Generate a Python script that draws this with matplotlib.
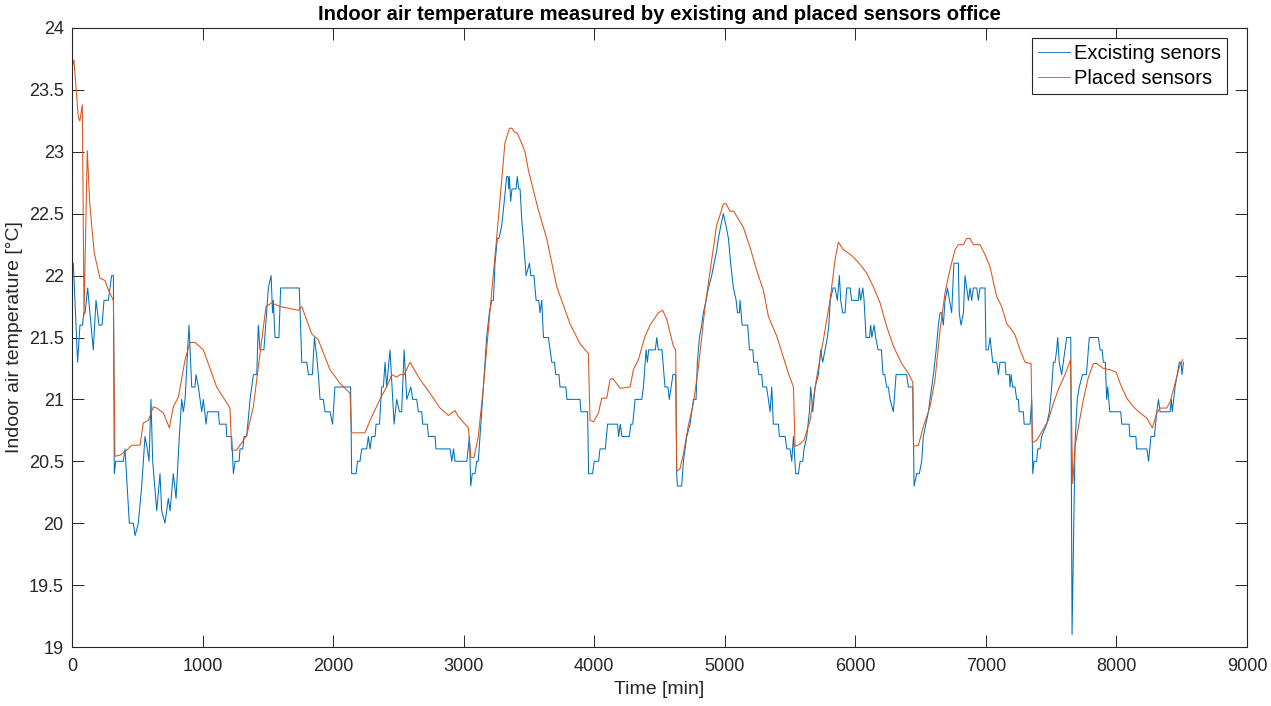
import matplotlib
matplotlib.use("Agg")
import matplotlib.pyplot as plt
from matplotlib import font_manager

# ---------------- data ----------------
existing_t = [10, 43, 61, 81, 90, 100, 120, 163, 184, 207, 230, 245, 278, 291, 304, 317, 324, 335, 393, 406,
              439, 470, 483, 508, 534, 559, 577, 590, 605, 618, 649, 674, 687, 712, 738, 751, 776, 797, 822, 840,
              853, 866, 896, 917, 942, 950, 968, 994, 1006, 1027, 1037, 1121, 1129, 1180, 1185, 1223, 1236, 1249,
              1280, 1287, 1308, 1318, 1338, 1364, 1389, 1415, 1427, 1440, 1470, 1504, 1525, 1536, 1542, 1555,
              1585, 1598, 1741, 1760, 1798, 1811, 1841, 1857, 1874, 1887, 1900, 1925, 1938, 1976, 1996, 2014,
              2134, 2142, 2176, 2187, 2206, 2219, 2257, 2270, 2283, 2296, 2321, 2329, 2355, 2372, 2385, 2398,
              2410, 2436, 2467, 2487, 2508, 2525, 2544, 2564, 2595, 2610, 2640, 2653, 2679, 2686, 2722, 2730,
              2781, 2788, 2896, 2909, 2922, 2934, 3024, 3044, 3054, 3066, 3087, 3100, 3112, 3125, 3151, 3176,
              3197, 3215, 3228, 3240, 3258, 3270, 3291, 3311, 3329, 3340, 3345, 3350, 3360, 3370, 3401, 3411,
              3421, 3432, 3445, 3457, 3478, 3504, 3514, 3538, 3555, 3575, 3585, 3598, 3611, 3649, 3662, 3675,
              3695, 3706, 3730, 3738, 3783, 3791, 3891, 3898, 3949, 3957, 3987, 4000, 4034, 4044, 4085, 4102,
              4179, 4187, 4200, 4212, 4268, 4281, 4295, 4313, 4364, 4377, 4397, 4407, 4417, 4468, 4479, 4491,
              4519, 4542, 4565, 4575, 4603, 4624, 4632, 4637, 4670, 4683, 4709, 4734, 4747, 4760, 4780, 4790,
              4806, 4823, 4836, 4857, 4875, 4900, 4918, 4938, 4951, 4969, 4989, 5010, 5028, 5045, 5066, 5087,
              5097, 5112, 5117, 5133, 5176, 5189, 5215, 5222, 5250, 5260, 5283, 5291, 5320, 5334, 5347, 5360,
              5372, 5411, 5418, 5462, 5475, 5500, 5513, 5526, 5543, 5564, 5577, 5597, 5607, 5628, 5648, 5658,
              5674, 5692, 5717, 5735, 5750, 5768, 5786, 5797, 5808, 5829, 5845, 5862, 5878, 5888, 5903, 5921,
              5934, 5960, 5972, 6023, 6031, 6041, 6057, 6067, 6082, 6108, 6118, 6126, 6144, 6156, 6174, 6200,
              6212, 6225, 6240, 6253, 6266, 6291, 6312, 6393, 6406, 6440, 6450, 6470, 6490, 6508, 6521, 6540,
              6560, 6572, 6585, 6598, 6619, 6636, 6649, 6661, 6674, 6687, 6706, 6721, 6738, 6755, 6789, 6796,
              6809, 6828, 6840, 6853, 6866, 6879, 6891, 6904, 6930, 6942, 6955, 6993, 7001, 7019, 7032, 7052,
              7083, 7096, 7108, 7147, 7154, 7180, 7185, 7193, 7205, 7223, 7236, 7249, 7255, 7287, 7293, 7338,
              7351, 7359, 7369, 7389, 7397, 7415, 7427, 7466, 7486, 7504, 7517, 7530, 7542, 7550, 7562, 7580,
              7593, 7606, 7619, 7650, 7660, 7683, 7700, 7715, 7740, 7770, 7792, 7862, 7875, 7890, 7900, 7915,
              7925, 7933, 7941, 7949, 8033, 8041, 8097, 8103, 8149, 8154, 8233, 8246, 8264, 8290, 8309, 8322,
              8334, 8411, 8420, 8428, 8449, 8482, 8495, 8502, 8513]
existing_v = [22.1, 21.3, 21.6, 21.6, 21.7, 21.7, 21.9, 21.4, 21.8, 21.6, 21.6, 21.8, 21.8, 21.9, 22.0, 22.0, 20.4, 20.5, 20.5, 20.6,
              20.0, 20.0, 19.9, 20.0, 20.3, 20.7, 20.6, 20.5, 21.0, 20.5, 20.1, 20.4, 20.1, 20.0, 20.2, 20.1, 20.4, 20.2, 20.7, 21.0,
              20.9, 21.0, 21.6, 21.1, 21.1, 21.2, 21.1, 20.9, 21.0, 20.8, 20.9, 20.9, 20.8, 20.8, 20.7, 20.7, 20.4, 20.5,
              20.5, 20.6, 20.6, 20.7, 20.7, 21.0, 21.2, 21.2, 21.6, 21.4, 21.4, 21.9, 22.0, 21.7, 21.8, 21.5,
              21.5, 21.9, 21.9, 21.3, 21.3, 21.2, 21.2, 21.5, 21.35, 21.2, 21.0, 21.0, 20.9, 20.9, 20.8, 21.1,
              21.1, 20.4, 20.4, 20.5, 20.5, 20.6, 20.6, 20.7, 20.6, 20.7, 20.7, 20.8, 20.8, 21.1, 21.1, 21.3,
              21.1, 21.4, 20.8, 21.0, 20.9, 20.9, 21.4, 21.0, 21.1, 21.0, 21.0, 20.9, 20.9, 20.8, 20.8, 20.7,
              20.7, 20.6, 20.6, 20.5, 20.6, 20.5, 20.5, 20.7, 20.3, 20.4, 20.4, 20.5, 20.5, 20.7, 21.1, 21.5,
              21.7, 21.8, 21.8, 22.1, 22.3, 22.3, 22.4, 22.6, 22.8, 22.8, 22.7, 22.8, 22.6, 22.7, 22.7, 22.8,
              22.7, 22.7, 22.45, 22.3, 22.0, 22.1, 22.0, 22.0, 21.8, 21.8, 21.7, 21.8, 21.5, 21.5, 21.4, 21.3,
              21.3, 21.2, 21.2, 21.1, 21.1, 21.0, 21.0, 20.9, 20.9, 20.4, 20.4, 20.5, 20.5, 20.6, 20.6, 20.8,
              20.8, 20.7, 20.8, 20.7, 20.7, 20.8, 20.8, 21.0, 21.0, 21.1, 21.4, 21.3, 21.4, 21.4, 21.5, 21.4,
              21.4, 21.1, 21.1, 21.0, 21.2, 21.2, 20.4, 20.3, 20.3, 20.5, 20.7, 20.8, 20.9, 21.0, 21.0, 21.3,
              21.5, 21.6, 21.7, 21.8, 21.9, 22.0, 22.1, 22.2, 22.3, 22.4, 22.5, 22.4, 22.3, 22.1, 21.9, 21.8,
              21.7, 21.7, 21.8, 21.6, 21.6, 21.4, 21.4, 21.3, 21.3, 21.2, 21.2, 21.1, 21.1, 21.0, 20.9, 21.1,
              20.8, 20.8, 20.7, 20.7, 20.6, 20.6, 20.5, 20.7, 20.4, 20.4, 20.5, 20.5, 20.6, 20.7, 20.9, 21.1,
              20.9, 21.1, 21.2, 21.4, 21.3, 21.4, 21.5, 21.6, 21.8, 21.9, 21.9, 21.8, 22.0, 21.8, 21.7, 21.7,
              21.9, 21.9, 21.8, 21.8, 21.9, 21.8, 21.9, 21.8, 21.5, 21.5, 21.6, 21.5, 21.6, 21.5, 21.4, 21.4,
              21.2, 21.2, 21.1, 21.1, 21.0, 20.9, 21.2, 21.2, 21.1, 21.1, 20.3, 20.4, 20.4, 20.5, 20.7, 20.8,
              20.9, 21.0, 21.1, 21.2, 21.4, 21.6, 21.7, 21.7, 21.6, 21.8, 21.9, 21.8, 21.7, 22.1, 22.1, 21.7,
              21.6, 21.7, 22.0, 21.9, 21.8, 21.9, 21.8, 21.9, 21.9, 21.8, 21.9, 21.9, 21.4, 21.4, 21.5, 21.3,
              21.3, 21.2, 21.3, 21.3, 21.2, 21.2, 21.1, 21.2, 21.1, 21.1, 21.0, 21.0, 20.9, 20.9, 20.8, 20.8,
              21.0, 20.4, 20.5, 20.5, 20.6, 20.6, 20.7, 20.8, 20.9, 21.1, 21.3, 21.3, 21.4, 21.5, 21.3, 21.2,
              21.3, 21.4, 21.5, 21.5, 19.1, 20.65, 21.0, 21.1, 21.2, 21.2, 21.5, 21.5, 21.4, 21.4, 21.3, 21.3,
              21.0, 21.1, 21.0, 20.9, 20.9, 20.8, 20.8, 20.7, 20.7, 20.6, 20.6, 20.5, 20.7, 20.7, 20.9, 21.0,
              20.9, 20.9, 21.0, 20.9, 21.1, 21.3, 21.3, 21.2, 21.3]

placed_t = [5, 15, 48, 60, 79, 92, 117, 135, 151, 171, 214, 253, 280, 317, 329, 368, 419, 457, 521, 546,
            585, 623, 649, 700, 746, 776, 815, 866, 904, 942, 1006, 1108, 1210, 1223, 1261, 1338, 1389, 1440,
            1486, 1530, 1593, 1734, 1760, 1836, 1887, 1976, 2053, 2129, 2142, 2244, 2283, 2359, 2423, 2449,
            2487, 2513, 2544, 2589, 2666, 2742, 2819, 2883, 2934, 2960, 3036, 3056, 3079, 3112, 3151, 3202,
            3253, 3316, 3350, 3370, 3388, 3410, 3432, 3470, 3496, 3534, 3572, 3636, 3713, 3815, 3891, 3955,
            3968, 3994, 4032, 4058, 4096, 4121, 4141, 4198, 4275, 4300, 4338, 4389, 4428, 4491, 4524, 4555,
            4606, 4624, 4632, 4657, 4683, 4721, 4760, 4798, 4849, 4900, 4938, 4964, 4989, 5010, 5040, 5070,
            5091, 5142, 5193, 5245, 5296, 5334, 5398, 5449, 5487, 5526, 5538, 5577, 5607, 5653, 5704, 5755,
            5806, 5845, 5870, 5908, 5950, 5985, 6036, 6087, 6138, 6189, 6240, 6291, 6355, 6406, 6440, 6445,
            6483, 6521, 6572, 6610, 6649, 6687, 6725, 6764, 6789, 6828, 6853, 6879, 6904, 6955, 6993, 7032,
            7057, 7083, 7121, 7160, 7185, 7223, 7262, 7300, 7346, 7356, 7389, 7440, 7478, 7517, 7555, 7606,
            7648, 7665, 7683, 7709, 7747, 7785, 7824, 7849, 7900, 7951, 7997, 8028, 8079, 8130, 8181, 8232,
            8275, 8309, 8334, 8385, 8411, 8449, 8487, 8507]
placed_v = [23.7, 23.74, 23.28, 23.25, 23.38, 21.68, 23.01, 22.6, 22.40, 22.18, 21.98, 21.96, 21.88, 21.80, 20.54, 20.55, 20.59, 20.63, 20.63, 20.81,
            20.83, 20.94, 20.93, 20.89, 20.77, 20.94, 21.02, 21.32, 21.46, 21.46, 21.40, 21.10, 20.93, 20.59, 20.59, 20.71, 20.94, 21.37,
            21.75, 21.78, 21.75, 21.72, 21.75, 21.53, 21.48, 21.24, 21.13, 21.05, 20.73, 20.73, 20.83, 21.0, 21.13, 21.20,
            21.18, 21.20, 21.20, 21.30, 21.16, 21.05, 20.93, 20.87, 20.91, 20.86, 20.77, 20.53, 20.53, 20.70, 21.10, 21.72,
            22.31, 23.07, 23.19, 23.19, 23.16, 23.15, 23.10, 23.0, 22.85, 22.69, 22.53, 22.30, 21.91, 21.61, 21.45, 21.37,
            20.83, 20.82, 20.89, 21.01, 21.01, 21.16, 21.17, 21.09, 21.10, 21.24, 21.32, 21.51, 21.60, 21.70, 21.72, 21.65,
            21.43, 21.40, 20.42, 20.44, 20.56, 20.79, 20.97, 21.26, 21.75, 22.13, 22.41, 22.49, 22.58, 22.58, 22.52, 22.52,
            22.48, 22.39, 22.23, 22.04, 21.88, 21.67, 21.51, 21.34, 21.21, 21.10, 20.62, 20.64, 20.67, 20.83, 21.18, 21.48,
            21.80, 22.13, 22.27, 22.21, 22.18, 22.15, 22.09, 22.02, 21.91, 21.78, 21.59, 21.43, 21.29, 21.21, 21.14, 20.62,
            20.63, 20.78, 20.94, 21.16, 21.56, 21.86, 22.05, 22.21, 22.25, 22.25, 22.30, 22.30, 22.25, 22.25, 22.17, 22.07,
            21.95, 21.83, 21.75, 21.61, 21.58, 21.52, 21.40, 21.30, 21.29, 20.65, 20.67, 20.76, 20.83, 20.97, 21.08, 21.20,
            21.32, 20.32, 20.62, 20.78, 21.0, 21.18, 21.29, 21.29, 21.25, 21.24, 21.22, 21.13, 21.01, 20.94, 20.89, 20.85,
            20.77, 20.89, 20.93, 20.93, 20.98, 21.13, 21.28, 21.32]

x_ticks = [0, 1000, 2000, 3000, 4000, 5000, 6000, 7000, 8000, 9000]
y_ticks = [19, 19.5, 20, 20.5, 21, 21.5, 22, 22.5, 23, 23.5, 24]
y_tick_labels = ["19", "19.5", "20", "20.5", "21", "21.5", "22", "22.5", "23", "23.5", "24"]

title = "Indoor air temperature measured by existing and placed sensors office"
series_names = ["Excisting senors", "Placed sensors"]

# ---------------- style ----------------
names = {f.name for f in font_manager.fontManager.ttflist}
base_font = "Liberation Sans" if "Liberation Sans" in names else "DejaVu Sans"
title_font = "Liberation Sans Narrow" if "Liberation Sans Narrow" in names else base_font
plt.rcParams["font.family"] = [base_font, "DejaVu Sans"]

axc = "#262626"
blue = "#0072BD"
orange = "#D95319"

fig = plt.figure(figsize=(12.71, 7.06), dpi=100)
ax = fig.add_axes([72 / 1271, 1 - 647 / 706, 1175 / 1271, 619 / 706])

ax.plot(existing_t, existing_v, color=blue, lw=0.75, label=series_names[0])
ax.plot(placed_t, placed_v, color=orange, lw=0.75, label=series_names[1])

ax.set_xlim(0, 9000)
ax.set_ylim(19, 24)
ax.set_xticks(x_ticks)
ax.set_yticks(y_ticks)
ax.set_yticklabels(y_tick_labels)

for s in ax.spines.values():
    s.set_color(axc)
    s.set_linewidth(0.8)
ax.tick_params(direction="in", length=8.5, width=0.7, color=axc, labelcolor=axc,
               labelsize=13, top=True, right=True)
ax.tick_params(axis="x", pad=8)
ax.tick_params(axis="y", pad=6)

ax.set_xlabel("Time [min]", fontsize=14, color=axc, labelpad=4)
ax.set_ylabel("Indoor air temperature [°C]", fontsize=14, color=axc, labelpad=4)
ax.set_title(title, fontsize=14.6, fontweight="bold", color="black", pad=6,
             family=[title_font, "DejaVu Sans"])

leg = ax.legend(loc="upper right", bbox_to_anchor=(0.983, 0.984), borderaxespad=0,
                fancybox=False, framealpha=1, edgecolor=axc, fontsize=14.5,
                handlelength=1.6, handletextpad=0.2, borderpad=0.3, labelspacing=0.3)
leg.get_frame().set_linewidth(0.8)
for h in leg.get_lines():
    h.set_linewidth(0.6)

fig.savefig("out.png", dpi=100)
